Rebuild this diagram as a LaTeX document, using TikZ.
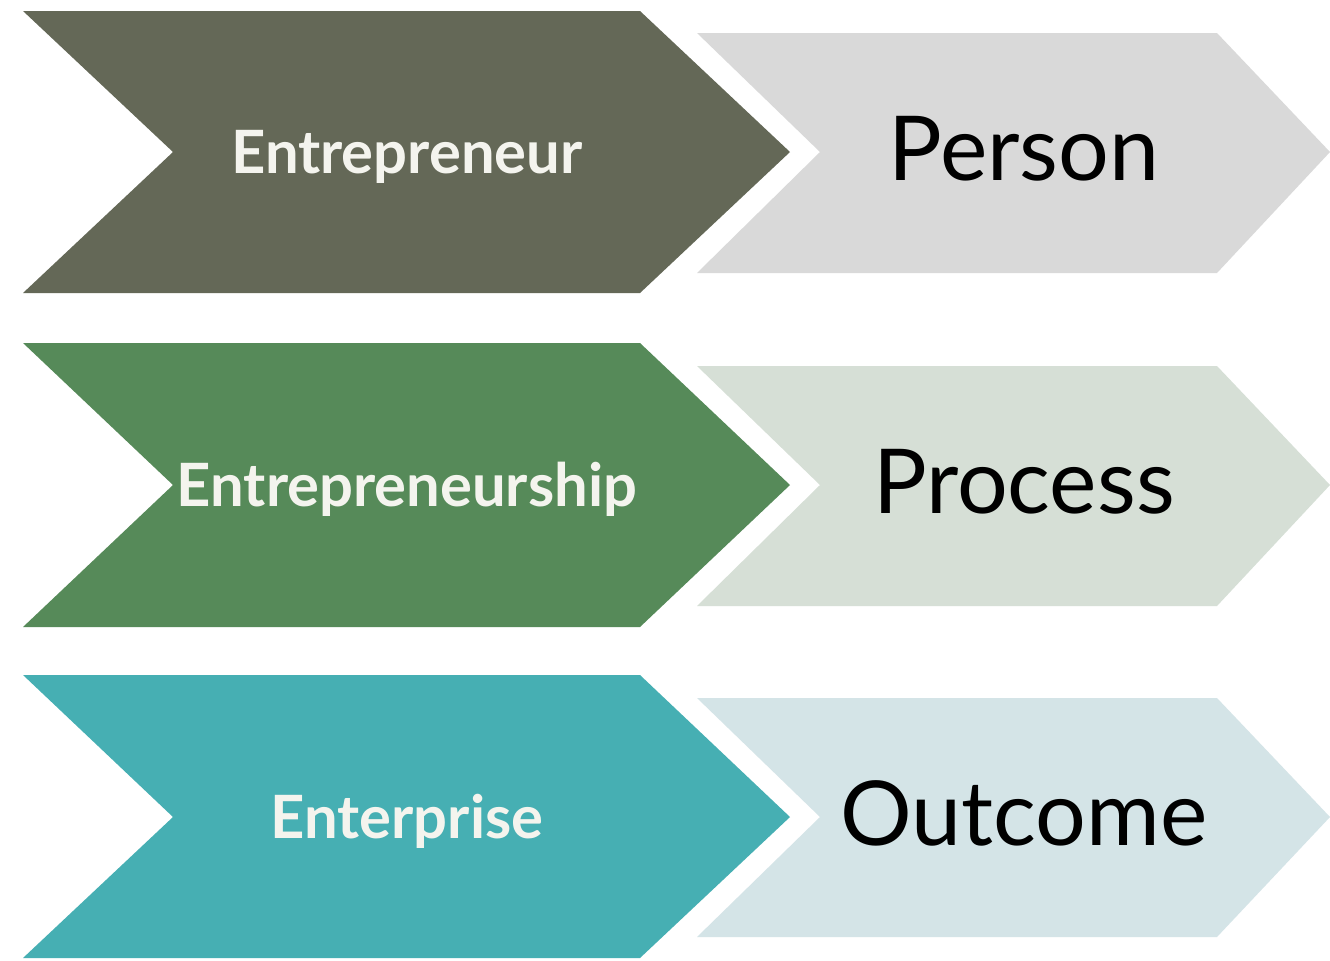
\documentclass[tikz,border=0pt]{standalone}
\usepackage{fontspec}
\setmainfont{Lato}
\definecolor{darkA}{HTML}{646857}
\definecolor{darkB}{HTML}{568A59}
\definecolor{darkC}{HTML}{46AFB3}
\definecolor{lightA}{HTML}{D9D9D9}
\definecolor{lightB}{HTML}{D6DFD6}
\definecolor{lightC}{HTML}{D4E4E7}
\definecolor{lbltxt}{HTML}{F4F4EE}
\tikzset{
  lefttext/.style={text=lbltxt, font=\fontsize{34}{37}\selectfont\bfseries, inner sep=0pt, anchor=base},
  righttext/.style={text=black, font=\fontsize{51}{55}\selectfont, inner sep=0pt, anchor=base},
}
\begin{document}
\begin{tikzpicture}[x=0.02cm,y=-0.02cm]
\useasboundingbox[fill=white] (0,0) rectangle (1330,961);
% row 1
\fill[darkA] (23,11) -- (640,11) -- (790,152) -- (640,293) -- (23,293) -- (173,152) -- cycle;
\fill[lightA] (697,33) -- (1217,33) -- (1330,152) -- (1217,273) -- (697,273) -- (820,152) -- cycle;
\node[lefttext] (entrepreneur) at (407,173) {Entrepreneur};
\node[righttext] (person) at (1024,180) {Person};
% row 2
\fill[darkB] (23,343) -- (640,343) -- (790,485) -- (640,627) -- (23,627) -- (173,485) -- cycle;
\fill[lightB] (697,366) -- (1217,366) -- (1330,485) -- (1217,606) -- (697,606) -- (820,485) -- cycle;
\node[lefttext] (entrepreneurship) at (407,506) {Entrepreneurship};
\node[righttext] (process) at (1024,513) {Process};
% row 3
\fill[darkC] (23,675) -- (640,675) -- (790,817) -- (640,958) -- (23,958) -- (173,817) -- cycle;
\fill[lightC] (697,698) -- (1217,698) -- (1330,817) -- (1217,937) -- (697,937) -- (820,817) -- cycle;
\node[lefttext] (enterprise) at (407,838) {Enterprise};
\node[righttext] (outcome) at (1024,845) {Outcome};
\end{tikzpicture}
\end{document}
